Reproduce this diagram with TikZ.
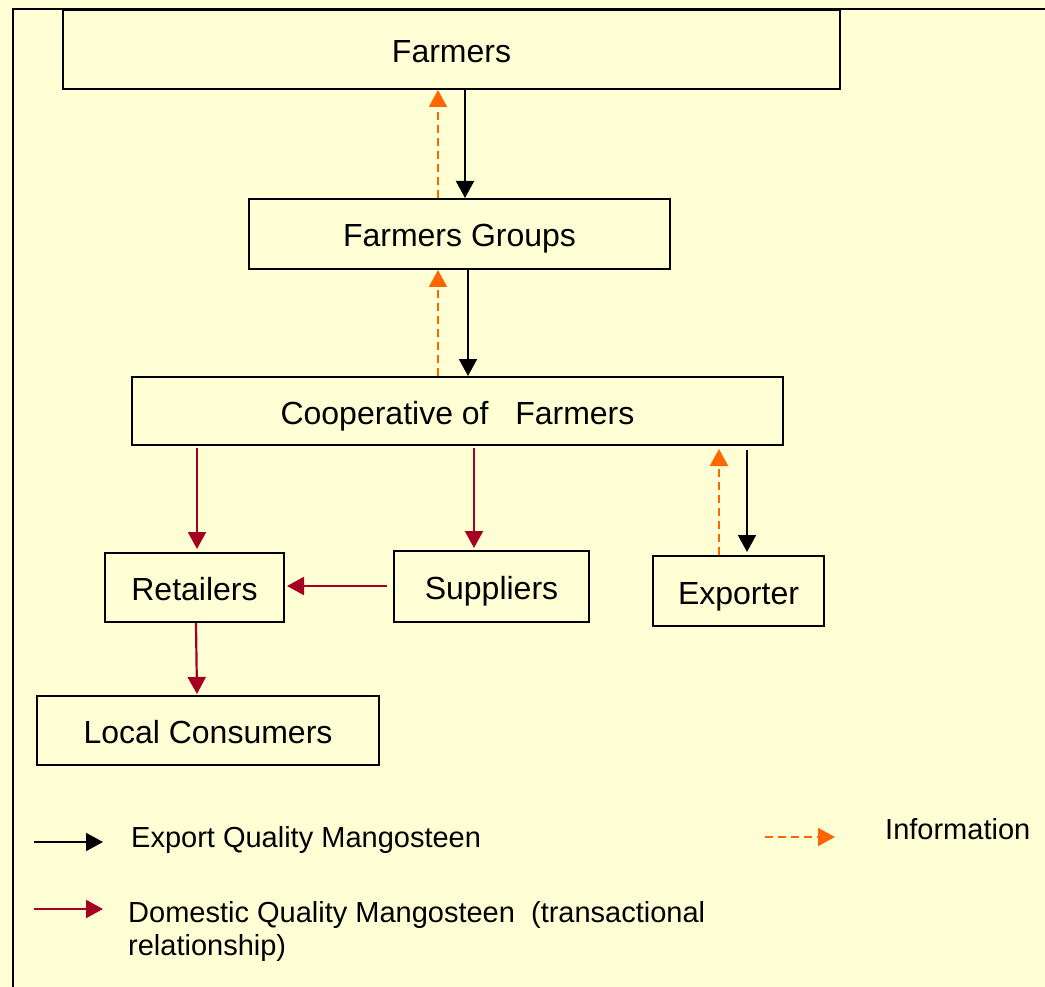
\documentclass[tikz,border=0pt]{standalone}
\usepackage{fontspec}
\setmainfont{Liberation Sans}
\usetikzlibrary{arrows.meta}
\definecolor{bg}{RGB}{255,255,214}
\definecolor{infoorange}{RGB}{255,102,0}
\definecolor{domred}{RGB}{165,0,33}
\tikzset{
  box/.style={draw=black, line width=2pt, inner sep=0pt, text height=26pt, text depth=0pt, font=\fontsize{32}{38}\selectfont},
  tipped/.style={-{Triangle[width=18pt,length=17pt]}},
  export/.style={tipped, draw=black, line width=2pt},
  info/.style={tipped, draw=infoorange, line width=2.2pt, dash pattern=on 8pt off 5pt},
  domestic/.style={tipped, draw=domred, line width=2.2pt},
  legend/.style={inner sep=0pt, anchor=base west, align=left, font=\fontsize{29}{33}\selectfont}
}
\begin{document}
\begin{tikzpicture}[x=1pt,y=-1pt]
\fill[bg] (0,0) rectangle (1045,987);
\useasboundingbox (0,0) rectangle (1045,987);
\clip (0,0) rectangle (1045,987);
\draw[line width=2pt] (13,1000) -- (13,9) -- (1060,9);

\node[box, minimum width=777pt, minimum height=79pt] (farmers) at (451.5,49.5) {Farmers};
\node[box, minimum width=421pt, minimum height=70pt] (groups) at (459.5,234) {Farmers Groups};
\node[box, minimum width=651pt, minimum height=68pt] (coop) at (457.5,411) {Cooperative of\ \ \ Farmers};
\node[box, minimum width=179pt, minimum height=69pt] (retail) at (194.5,587.5) {Retailers};
\node[box, minimum width=195pt, minimum height=71pt] (supp) at (491.5,586.5) {Suppliers};
\node[box, minimum width=171pt, minimum height=70pt] (exp) at (738.5,591) {Exporter};
\node[box, minimum width=342pt, minimum height=69pt] (local) at (208,730.5) {Local Consumers};

% export quality flow
\draw[export] (465,0 |- farmers.south) -- (465,0 |- groups.north);
\draw[export] (468,0 |- groups.south) -- (468,0 |- coop.north);
\draw[export, shorten <=4pt, shorten >=3pt] (747,0 |- coop.south) -- (747,0 |- exp.north);

% information flow
\draw[info] (438,0 |- groups.north) -- (438,0 |- farmers.south);
\draw[info] (438,0 |- coop.north) -- (438,0 |- groups.south);
\draw[info, shorten >=3pt] (719,0 |- exp.north) -- (719,0 |- coop.south);

% domestic flow
\draw[domestic, shorten <=2pt, shorten >=3pt] (197,0 |- coop.south) -- (197,0 |- retail.north);
\draw[domestic, shorten <=2pt, shorten >=2pt] (474,0 |- coop.south) -- (474,0 |- supp.north);
\draw[domestic, shorten <=6pt, shorten >=2pt] (supp.west |- 0,586) -- (retail.east |- 0,586);
\draw[domestic, shorten >=1pt] (196,0 |- retail.south) -- (197,0 |- local.north);

% legend
\coordinate (le1) at (34,842);
\coordinate (le2) at (103,842);
\coordinate (li1) at (765,837);
\coordinate (li2) at (835,837);
\coordinate (ld1) at (34,909);
\coordinate (ld2) at (103,909);
\draw[export] (le1) -- (le2);
\draw[info] (li1) -- (li2);
\draw[domestic] (ld1) -- (ld2);
\node[legend] (lte) at (131,847) {Export Quality Mangosteen};
\node[legend] (lti) at (885,839) {Information};
\node[legend] (ltd) at (128,955) {Domestic Quality Mangosteen\ \ (transactional\\relationship)};
\end{tikzpicture}
\end{document}
